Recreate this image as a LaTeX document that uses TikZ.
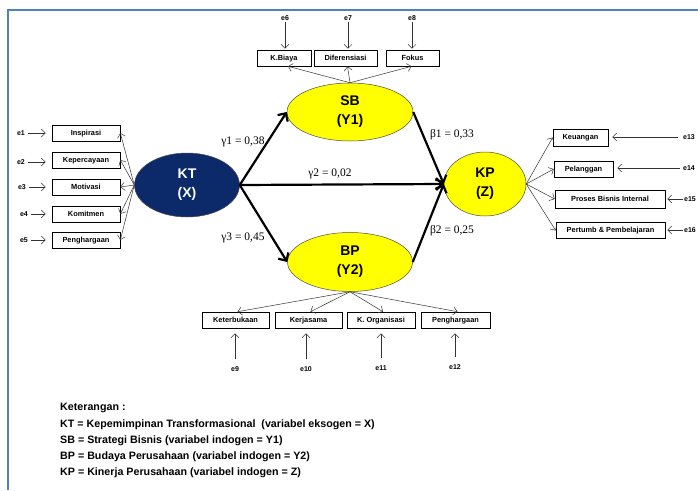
\documentclass[tikz,border=0pt]{standalone}
\usepackage{fontspec}
\setmainfont{Liberation Serif}
\setsansfont{Liberation Sans}
\usetikzlibrary{shapes.geometric, arrows.meta}
\definecolor{frameblue}{HTML}{4F81BD}
\definecolor{ktnavy}{HTML}{0C2A6A}
\definecolor{latyellow}{HTML}{FFFF00}
\tikzset{every picture/.style={/utils/exec={\sffamily}}}
\tikzset{
	indbox/.style={draw, line width=0.6pt, inner sep=0pt, minimum height=16pt,
		text height=5.4pt, text depth=0.6pt,
		font=\bfseries\fontsize{7.4}{8}\selectfont},
	latent/.style={ellipse, draw=black!70, line width=0.5pt, inner sep=0pt, align=center,
		font=\bfseries\fontsize{14}{19}\selectfont},
	errlbl/.style={inner sep=1pt, font=\bfseries\fontsize{7}{8}\selectfont},
	thinarr/.style={-{Straight Barb[length=4pt, width=8pt]}, line width=0.5pt, draw=black!80},
	coefarr/.style={-{Straight Barb[length=6pt, width=12pt]}, line width=2.2pt},
	coef/.style={inner sep=0pt, font=\rmfamily\fontsize{11.5}{12}\selectfont},
	legend/.style={anchor=west, inner sep=0pt, font=\bfseries\fontsize{10.7}{12}\selectfont}
}
\begin{document}
\begin{tikzpicture}[x=1pt, y=-1pt]
		\useasboundingbox (0,0) rectangle (698,490);
		\draw[frameblue, line width=2.5pt] (8,490) -- (8,10) -- (700,10);
		
		% latent variables
		\node[latent, fill=ktnavy, text=white, minimum width=105pt, minimum height=64pt] (KT) at (187,185) {KT\\(X)};
		\node[latent, fill=latyellow, minimum width=126pt, minimum height=58pt] (SB) at (350,112) {SB\\(Y1)};
		\node[latent, fill=latyellow, minimum width=125pt, minimum height=59pt] (BP) at (350,262) {BP\\(Y2)};
		\node[latent, fill=latyellow, minimum width=82pt, minimum height=64pt] (KP) at (485,184) {KP\\(Z)};
		
		% indikator KT
		\node[indbox, minimum width=68pt] (x1) at (86,133) {Inspirasi};
		\node[indbox, minimum width=68pt] (x2) at (86,160) {Kepercayaan};
		\node[indbox, minimum width=68pt] (x3) at (86,187) {Motivasi};
		\node[indbox, minimum width=68pt] (x4) at (86,214) {Komitmen};
		\node[indbox, minimum width=68pt] (x5) at (86,240) {Penghargaan};
		
		\node[errlbl] (e1) at (21,133) {e1};
		\node[errlbl] (e2) at (21,162) {e2};
		\node[errlbl] (e3) at (22,187) {e3};
		\node[errlbl] (e4) at (24,214) {e4};
		\node[errlbl] (e5) at (24,240) {e5};
		\foreach \i in {1,...,5}
			\draw[thinarr, shorten <=2pt, shorten >=6pt] (e\i.east) -- (e\i.east -| x\i.west);
		\foreach \i in {1,...,5}
			\draw[thinarr] (KT.west) -- (x\i.east);
		
		% indikator SB
		\node[indbox, minimum width=54pt] (y1) at (284,58) {K.Biaya};
		\node[indbox, minimum width=63pt] (y2) at (345.5,58) {Diferensiasi};
		\node[indbox, minimum width=53pt] (y3) at (412.5,58) {Fokus};
		
		\node[errlbl] (e6) at (285,18) {e6};
		\node[errlbl] (e7) at (348,18) {e7};
		\node[errlbl] (e8) at (412,18) {e8};
		\draw[thinarr, shorten >=1pt] (e6.south) -- (e6.south |- y1.north);
		\draw[thinarr, shorten >=1pt] (e7.south) -- (e7.south |- y2.north);
		\draw[thinarr, shorten >=1pt] (e8.south) -- (e8.south |- y3.north);
		\draw[thinarr] (SB.north) -- ([xshift=4pt]y1.south);
		\draw[thinarr] (SB.north) -- ([xshift=2pt]y2.south);
		\draw[thinarr] (SB.north) -- ([xshift=-1pt]y3.south);
		
		% indikator BP
		\node[indbox, minimum width=67pt] (y4) at (235.5,320) {Keterbukaan};
		\node[indbox, minimum width=67pt] (y5) at (308.5,320) {Kerjasama};
		\node[indbox, minimum width=68pt] (y6) at (381,320) {K. Organisasi};
		\node[indbox, minimum width=69pt] (y7) at (455.5,320) {Penghargaan};
		
		\node[errlbl] (e9) at (235,369) {e9};
		\node[errlbl] (e10) at (306,369) {e10};
		\node[errlbl] (e11) at (381,368) {e11};
		\node[errlbl] (e12) at (455,367) {e12};
		\draw[thinarr, shorten <=6pt, shorten >=5pt] (e9.north) -- (e9.north |- y4.south);
		\draw[thinarr, shorten <=6pt, shorten >=5pt] (e10.north) -- (e10.north |- y5.south);
		\draw[thinarr, shorten <=6pt, shorten >=5pt] (e11.north) -- (e11.north |- y6.south);
		\draw[thinarr, shorten <=6pt, shorten >=5pt] (e12.north) -- (e12.north |- y7.south);
		\draw[thinarr] (BP.south) -- ([xshift=2pt]y4.north);
		\draw[thinarr] (BP.south) -- ([xshift=2pt]y5.north);
		\draw[thinarr] (BP.south) -- ([xshift=2pt]y6.north);
		\draw[thinarr] (BP.south) -- ([xshift=2pt]y7.north);
		
		% indikator KP
		\node[indbox, minimum width=55pt, minimum height=17pt] (z1) at (580.5,137.5) {Keuangan};
		\node[indbox, minimum width=59pt] (z2) at (583.5,169) {Pelanggan};
		\node[indbox, minimum width=110pt, minimum height=18pt] (z3) at (610,199) {Proses Bisnis Internal};
		\node[indbox, minimum width=109pt] (z4) at (610.5,230.5) {Pertumb \& Pembelajaran};
		
		\node[errlbl, anchor=west] (e13) at (682,137) {e13};
		\node[errlbl, anchor=west] (e14) at (682,168) {e14};
		\node[errlbl, anchor=west] (e15) at (683,199) {e15};
		\node[errlbl, anchor=west] (e16) at (683,230) {e16};
		\draw[thinarr, shorten <=4pt, shorten >=4pt] (e13.west) -- (e13.west -| z1.east);
		\draw[thinarr, shorten <=2pt, shorten >=4pt] (e14.west) -- (e14.west -| z2.east);
		\draw[thinarr, shorten >=2pt] (e15.west) -- (e15.west -| z3.east);
		\draw[thinarr, shorten >=2pt] (e16.west) -- (e16.west -| z4.east);
		\foreach \i in {1,...,4}
			\draw[thinarr] (KP.east) -- (z\i.west);
		
		% jalur struktural
		\draw[coefarr] (KT.east) -- (SB.west);
		\draw[coefarr] (KT.east) -- (KP.west);
		\draw[coefarr] (KT.east) -- (BP.west);
		\draw[coefarr] (SB.east) -- (KP.west);
		\draw[coefarr] (BP.east) -- (KP.west);
		
		\node[coef] (g1) at (243,142) {γ1 = 0,38};
		\node[coef] (g2) at (330,174) {γ2 = 0,02};
		\node[coef] (g3) at (243,238) {γ3 = 0,45};
		\node[coef] (b1) at (452,135) {β1 = 0,33};
		\node[coef] (b2) at (452,231) {β2 = 0,25};
		
		% keterangan
		\node[legend] (ket) at (60,408) {Keterangan :};
		\node[legend] (ket1) at (60,425) {KT = Kepemimpinan Transformasional \ (variabel eksogen = X)};
		\node[legend] (ket2) at (60,441) {SB = Strategi Bisnis (variabel indogen = Y1)};
		\node[legend] (ket3) at (60,457) {BP = Budaya Perusahaan (variabel indogen = Y2)};
		\node[legend] (ket4) at (60,473) {KP = Kinerja Perusahaan (variabel indogen = Z)};
	\end{tikzpicture}
\end{document}
